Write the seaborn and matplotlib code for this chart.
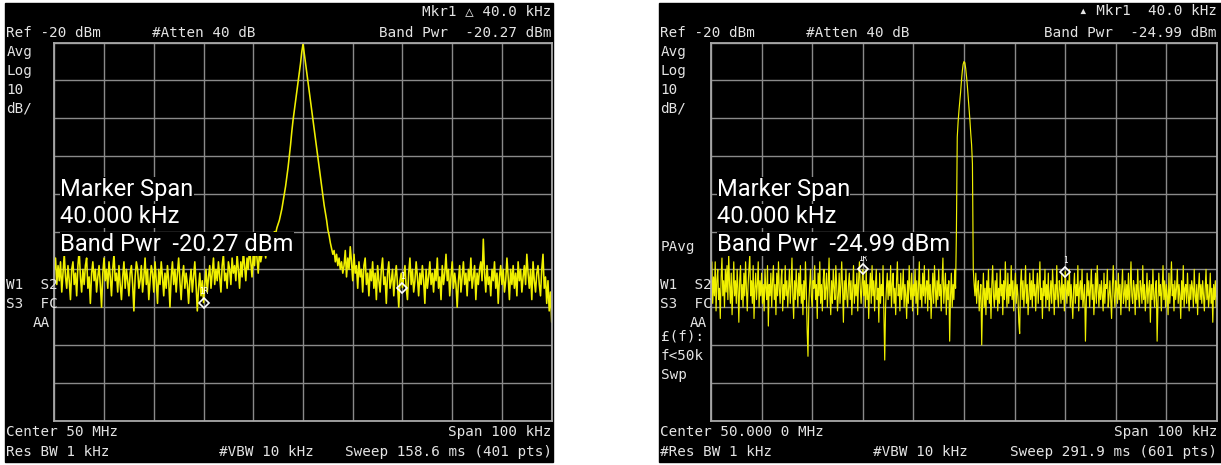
import numpy as np
import pandas as pd
import matplotlib
matplotlib.use("Agg")
import matplotlib.pyplot as plt
from matplotlib.patches import Rectangle
import seaborn as sns

# sweep settings, frequency as offset from center (kHz)
span_khz = 100.0
ref_level = -20
db_per_div = 10

# left screen: 401 pts, Avg trace (dBm)
left_trace_db = [
    -80, -77, -84, -79, -83, -78, -86, -81, -76, -82, -85, -79,
    -83, -88, -80, -78, -84, -81, -87, -79, -75, -82, -86, -80,
    -84, -79, -77, -85, -82, -89, -81, -78, -83, -80, -86, -82,
    -79, -84, -90, -81, -77, -83, -80, -85, -78, -82, -87, -80,
    -76, -83, -81, -86, -79, -84, -88, -82, -78, -85, -80, -83,
    -87, -81, -79, -84, -91, -82, -78, -80, -85, -83, -79, -86,
    -82, -77, -84, -80, -88, -83, -79, -81, -86, -78, -83, -89,
    -80, -84, -78, -82, -87, -81, -85, -79, -83, -90, -82, -78,
    -84, -80, -86, -81, -77, -83, -88, -82, -79, -85, -81, -84,
    -89, -83, -80, -86, -82, -78, -84, -91, -85, -81, -87, -83,
    -88.8, -84, -80, -86, -82, -79, -85, -81, -77, -84, -80, -83,
    -78, -82, -86, -79, -76, -83, -81, -85, -78, -80, -84, -77,
    -81, -79, -83, -76, -80, -85, -78, -82, -75, -79, -83, -77,
    -80, -74, -78, -82, -76, -79, -73, -77, -81, -75, -78, -76,
    # carrier
    -76, -74, -77, -73, -75, -72, -74, -71, -72, -70, -70.5,
    -69, -68, -67, -65.5, -64, -62, -60, -58, -55.5, -53, -50,
    -47, -43.5, -40.5, -38, -35.5, -33, -30.5, -28, -25.5, -22.5,
    -20.3,
    -22.8, -25.5, -28, -30.5, -33, -35.5, -38, -40.5, -43, -45.5,
    -48, -50.5, -53, -55.5, -58, -60.5, -63, -65, -67, -69.5, -71,
    -73, -74.5, -76, -75, -78, -76, -79, -77, -80, -78, -81,
    # upper side
    -79, -75, -82, -77, -80, -74, -78, -83, -76, -81, -79, -85,
    -78, -82, -80, -86, -79, -77, -84, -81, -87, -80, -83, -78,
    -85, -81, -88, -79, -83, -86, -80, -77, -84, -82, -89, -81,
    -78, -85, -83, -80, -87, -82, -79, -84, -90, -83, -81, -84.8,
    -82, -79, -85, -88, -81, -77, -84, -80, -86, -83, -78, -82,
    -87, -81, -84, -79, -83, -89, -80, -85, -82, -78, -84, -81,
    -86, -80, -83, -77, -85, -82, -88, -79, -84, -81, -76, -83,
    -80, -87, -82, -78, -85, -81, -84, -90, -83, -79, -86, -82,
    -78, -84, -81, -87, -80, -83, -77, -85, -82, -79, -88, -81,
    -84, -80, -78, -83, -72, -81, -86, -79, -84, -82, -87, -80,
    -83, -78, -85, -81, -89, -82, -79, -84, -80, -86, -83, -77,
    -82, -88, -80, -84, -79, -85, -81, -87, -78, -83, -80, -86,
    -82, -79, -84, -76, -81, -85, -80, -88, -78, -83, -86, -81,
    -79, -84, -87, -80, -76, -85, -82, -89, -83, -91, -86, -94,
]

# right screen: 601 pts, PAvg trace (dBm)
right_trace_db = [
    -84, -78, -89, -82, -87, -78, -91, -83, -80, -88, -85, -93, -82, -77, -87,
    -83, -90, -80, -86, -79, -88, -76, -84, -89, -81, -92, -85, -78, -87, -83,
    -89, -80, -85, -94, -83, -79, -88, -84, -90, -81, -87, -78, -85, -91, -84,
    -80, -76, -87, -83, -89, -79, -93, -85, -81, -88, -84, -78, -90, -83, -87,
    -81, -89, -84, -91, -80, -85, -88, -79, -95, -84, -87, -81, -90, -83, -79,
    -88, -84, -92, -81, -87, -78, -85, -89, -83, -80, -91, -84, -88, -79, -87,
    -83, -90, -85, -80, -89, -84, -77, -87, -93, -83, -88, -80, -85, -90, -81,
    -87, -79, -89, -84, -92, -83, -88, -78, -85, -96, -103, -89, -84, -80, -87,
    -90, -83, -85, -79, -88, -84, -93, -81, -87, -78, -89, -84, -91, -83, -80,
    -88, -85, -81, -90, -84, -77, -87, -92, -83, -89, -80, -85, -88, -79, -84,
    -91, -87, -81, -89, -84, -78, -85, -94, -83, -88, -80, -87, -90, -84, -81,
    -88, -83, -92, -85, -79, -89, -84, -87, -81, -91, -83, -78, -85, -89, -84,
    -80, -87, -83, -90, -80, -88, -84, -93, -85, -81, -89, -79, -87, -83, -91,
    -84, -80, -88, -85, -94, -81, -89, -84, -87, -79, -92, -104, -90, -85, -81,
    -88, -83, -87, -79, -90, -84, -81, -89, -85, -92, -83, -78, -87, -84, -91,
    -81, -88, -85, -80, -90, -84, -87, -93, -83, -89, -79, -85, -88, -81, -91,
    -84, -87, -80, -89, -83, -92, -85, -78, -88, -84, -90, -81, -87, -79, -89,
    -85, -83, -91, -80, -88, -84, -93, -87, -81, -89, -79, -85, -90, -83, -88,
    -80, -87, -84, -91, -83, -77, -89, -85, -81, -92, -84, -88, -83, -99, -87,
    -81, -90, -84, -88, -80, -85,
    # carrier
    -70, -45, -41, -38, -35.5, -33, -30, -27.5, -25.7, -25.0,
    -25.3, -26.8, -29, -31.5, -34.5, -37.5, -40.5, -44, -47, -52, -80,
    # upper side
    -84, -87, -81, -89, -85, -83, -91, -87, -84, -100, -88, -81, -90, -85, -92,
    -83, -88, -80, -89, -85, -93, -84, -79, -87, -90, -83, -88, -81, -91, -85,
    -89, -80, -87, -84, -92, -83, -88, -78, -85, -90, -81, -89, -84, -87, -79,
    -88, -83, -91, -85, -81, -89, -84, -87, -94, -97, -84, -80, -88, -83, -90,
    -85, -79, -89, -84, -92, -87, -81, -88, -83, -90, -80, -87, -84, -91, -85,
    -81, -89, -84, -78, -88, -85, -93, -83, -87, -80, -90, -84, -88, -81, -91,
    -87, -83, -89, -80, -85, -92, -84, -88, -79, -87, -90, -83, -85, -89, -81,
    -88, -84, -91, -80.6, -85, -89, -83, -87, -80, -90, -84, -88, -93, -85, -81,
    -89, -84, -87, -79, -91, -85, -83, -88, -80, -90, -87, -84, -99, -89, -81,
    -87, -83, -90, -85, -80, -88, -84, -92, -87, -81, -89, -79, -85, -90, -84,
    -88, -83, -87, -91, -81, -89, -84, -85, -80, -90, -87, -83, -88, -93, -84,
    -79, -87, -90, -83, -85, -89, -81, -88, -84, -92, -85, -80, -89, -87, -83,
    -90, -84, -88, -81, -91, -85, -78, -87, -89, -83, -85, -92, -84, -88, -80,
    -87, -90, -83, -85, -89, -79, -88, -84, -91, -87, -81, -89, -85, -83, -94,
    -84, -88, -80, -87, -90, -85, -83, -99, -89, -81, -87, -84, -91, -85, -79,
    -88, -83, -90, -84, -87, -92, -81, -89, -85, -78, -87, -84, -91, -83, -88,
    -85, -80, -89, -84, -87, -93, -83, -88, -79, -90, -85, -84, -89, -81, -87,
    -91, -84, -88, -83, -85, -90, -80, -87, -89, -84, -92, -85, -81, -88, -84,
    -89, -83, -87, -91, -85, -80, -88, -84, -90, -87, -81, -89, -85, -94, -84,
    -88, -83, -90, -87,
]

# band power markers (1R reference, 1 delta)
marker_labels = ["1R", "1"]
left_marker_khz = [-20, 20]
left_marker_db = [-88.8, -84.8]
right_marker_khz = [-20, 20]
right_marker_db = [-80.0, -80.6]

left_header = ["Mkr1 \u25b3 40.0 kHz", "Ref -20 dBm", "#Atten 40 dB", "Band Pwr  -20.27 dBm"]
right_header = ["\u25b4 Mkr1  40.0 kHz", "Ref -20 dBm", "#Atten 40 dB", "Band Pwr  -24.99 dBm"]
left_footer = ["Center 50 MHz", "Span 100 kHz", "Res BW 1 kHz", "#VBW 10 kHz", "Sweep 158.6 ms (401 pts)"]
right_footer = ["Center 50.000 0 MHz", "Span 100 kHz", "#Res BW 1 kHz", "#VBW 10 kHz", "Sweep 291.9 ms (601 pts)"]
left_readout = ["Marker Span", "40.000 kHz", "Band Pwr  -20.27 dBm"]
right_readout = ["Marker Span", "40.000 kHz", "Band Pwr  -24.99 dBm"]

sns.set_style("dark")
plt.rcParams["font.family"] = ["DejaVu Sans Mono", "DejaVu Sans"]

W, H = 1221, 465
fig = plt.figure(figsize=(W / 100, H / 100), dpi=100, facecolor="white")

mono = ["DejaVu Sans Mono", "DejaVu Sans"]
txt_col = "#e4e4e4"


def fx(x):
    return x / W


def fy(y):
    return 1 - y / H


def small(x, y, s, ha="left", size=10.3, **kw):
    fig.text(fx(x), fy(y), s, ha=ha, va="center", color=txt_col,
             fontsize=size, family=mono, **kw)


def screen(x0, x1, gx0, gx1, trace, mk_khz, mk_db, header, footer, readout, extra_left, lw):
    gy0, gy1 = 42.7, 420.5
    fig.patches.append(Rectangle((fx(x0), fy(462)), fx(x1) - fx(x0), fy(3) - fy(462),
                                 transform=fig.transFigure, color="black", zorder=-5))
    ax = fig.add_axes([fx(gx0), fy(gy1), fx(gx1) - fx(gx0), fy(gy0) - fy(gy1)])
    ax.set_facecolor("black")

    n = len(trace)
    df = pd.DataFrame({"khz": np.linspace(-span_khz / 2, span_khz / 2, n), "dbm": trace})
    sns.lineplot(data=df, x="khz", y="dbm", color="#f0f000", lw=lw, ax=ax)

    ax.plot(mk_khz, mk_db, ls="none", marker="D", ms=5, mfc="none", mec="white", mew=1.2)
    for k, d, lab in zip(mk_khz, mk_db, marker_labels):
        ax.text(k, d + 1.7, lab, color="white", fontsize=5.5, ha="center", va="bottom", family=mono)

    ax.set_xlim(-span_khz / 2, span_khz / 2)
    ax.set_ylim(ref_level - 10 * db_per_div, ref_level)
    ax.set_xticks(np.arange(-50, 51, 10))
    ax.set_yticks(np.arange(ref_level - 10 * db_per_div, ref_level + 1, db_per_div))
    ax.grid(True, color="#8a8a8a", lw=1)
    ax.set_axisbelow(True)
    ax.tick_params(length=0, labelbottom=False, labelleft=False)
    ax.set_xlabel("")
    ax.set_ylabel("")
    for sp in ax.spines.values():
        sp.set_visible(True)
        sp.set_color("#a8a8a8")
        sp.set_linewidth(1.3)

    tx = x0 + 1.5
    small(gx1, 11, header[0], ha="right")
    small(tx, 33, header[1])
    small(tx + 145, 33, header[2])
    small(gx1, 33, header[3], ha="right")
    for y, s in zip([52, 71, 90, 108], ["Avg", "Log", "10", "dB/"]):
        small(tx, y, s)
    small(tx, 285, "W1  S2")
    small(tx, 304, "S3  FC")
    small(gx0 - 4, 323, "AA", ha="right")
    for y, s in extra_left:
        small(tx, y, s)

    small(tx, 432, footer[0])
    small(gx1, 432, footer[1], ha="right")
    small(tx, 452, footer[2])
    small(tx + 213, 452, footer[3])
    small(gx1, 452, footer[4], ha="right")

    for y, s in zip([189, 216, 244], readout):
        fig.text(fx(gx0 + 6), fy(y), s, ha="left", va="center", color="white",
                 fontsize=17, family=["Roboto", "DejaVu Sans"],
                 bbox=dict(facecolor="black", edgecolor="none", pad=0.2), zorder=10)
    return ax


screen(5, 553, 54.3, 551.7, left_trace_db, left_marker_khz, left_marker_db,
       left_header, left_footer, left_readout, [], 1.15)
screen(659, 1221, 711, 1217, right_trace_db, right_marker_khz, right_marker_db,
       right_header, right_footer, right_readout,
       [(247, "PAvg"), (337, "\u00a3(f):"), (356, "f<50k"), (375, "Swp")], 0.85)

fig.savefig("out.png", dpi=100, facecolor="white")
